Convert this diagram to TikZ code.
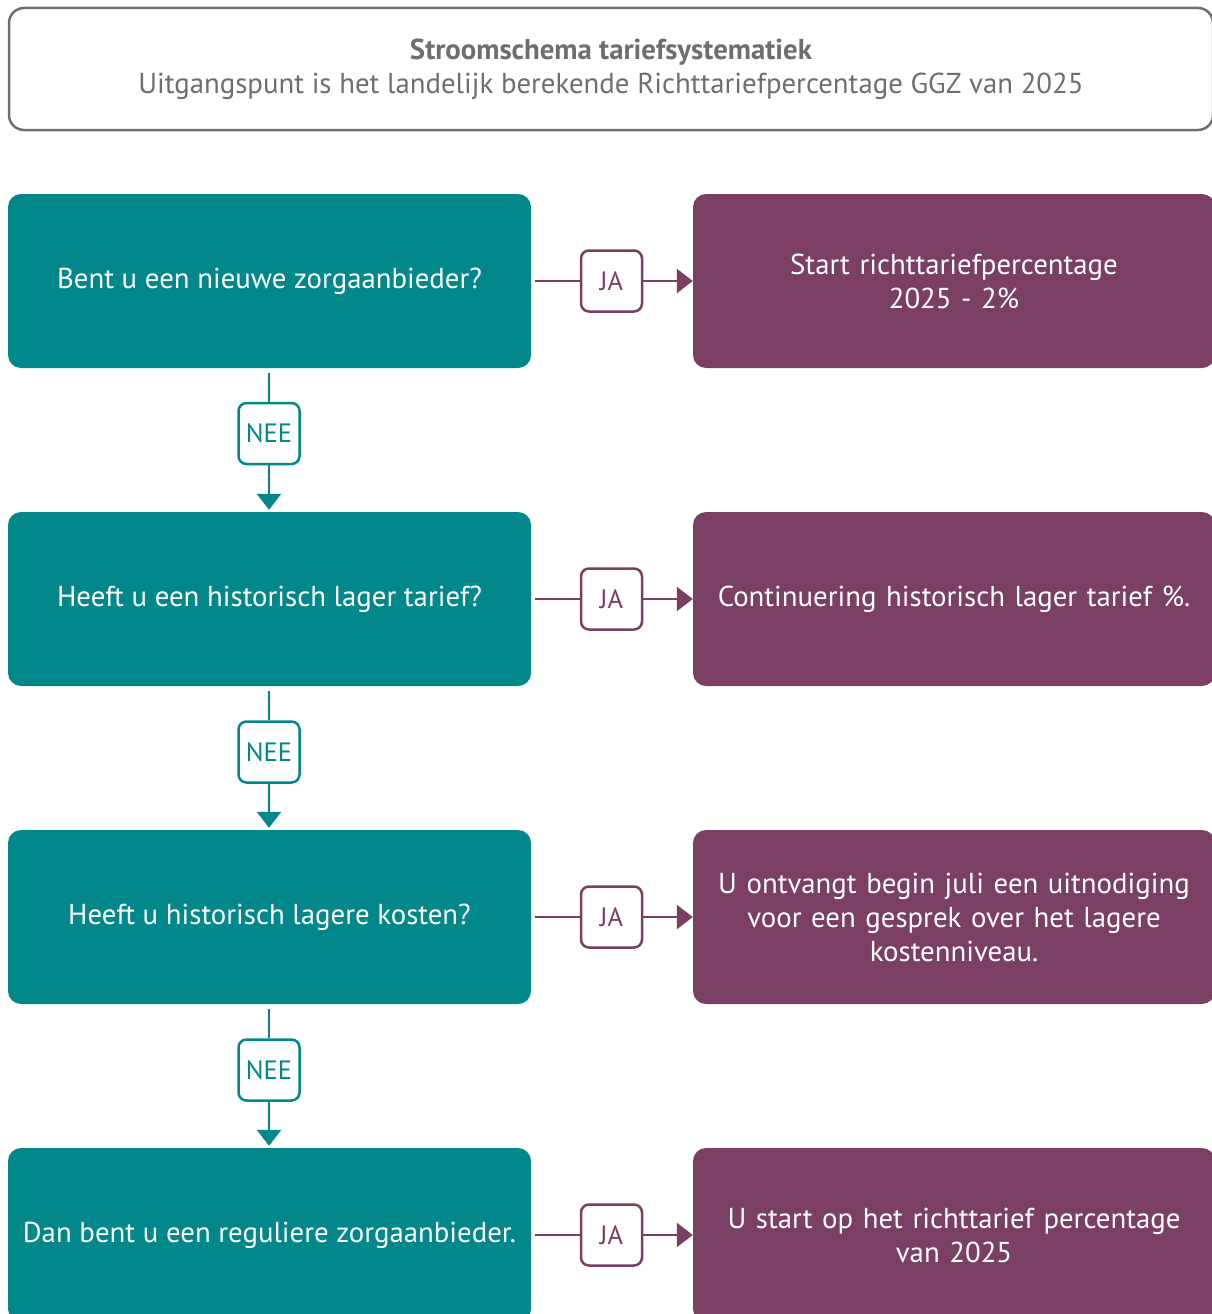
\documentclass[tikz,border=0pt]{standalone}
\usepackage{fontspec}
\setmainfont{PT Sans}
\usetikzlibrary{arrows.meta}
\definecolor{teal0}{HTML}{02888A}
\definecolor{plum0}{HTML}{7A3F62}
\definecolor{gray0}{HTML}{6E6E6E}
\tikzset{
  qbox/.style={fill=teal0, rounded corners=13pt, minimum width=523pt, minimum height=174pt, text=white, font=\fontsize{28.8}{34}\selectfont, align=center, inner sep=0pt},
  abox/.style={fill=plum0, rounded corners=13pt, minimum width=522pt, minimum height=174pt, text=white, font=\fontsize{28.8}{34}\selectfont, align=center, inner sep=0pt, text width=500pt},
  jabox/.style={draw=plum0, line width=2.5pt, rounded corners=8pt, minimum width=61pt, minimum height=61pt, text=plum0, font=\fontsize{26.5}{30}\selectfont, inner sep=0pt},
  neebox/.style={draw=teal0, line width=2.5pt, rounded corners=8pt, minimum width=61pt, minimum height=61pt, text=teal0, font=\fontsize{26.5}{30}\selectfont, inner sep=0pt},
  jaline/.style={draw=plum0, line width=2.5pt},
  neeline/.style={draw=teal0, line width=2.5pt},
  tip/.style={-{Triangle[length=16pt,width=24pt]}},
}
\begin{document}
\begin{tikzpicture}[x=1pt,y=-1pt]
\useasboundingbox (0,0) rectangle (1212,1314);
\clip (0,0) rectangle (1212,1314);
% header
\node[draw=gray0, line width=2.5pt, rounded corners=15pt, minimum width=1204pt, minimum height=122pt, inner sep=0pt, align=center, text=gray0, font=\fontsize{28.8}{34}\selectfont] (head) at (611,69)
  {\textbf{Stroomschema tariefsystematiek}\\Uitgangspunt is het landelijk berekende Richttariefpercentage GGZ van 2025};
% rows
\node[qbox] (q1) at (269.5,281) {Bent u een nieuwe zorgaanbieder?};
\node[qbox] (q2) at (269.5,599) {Heeft u een historisch lager tarief?};
\node[qbox] (q3) at (269.5,917) {Heeft u historisch lagere kosten?};
\node[qbox] (q4) at (269.5,1235) {Dan bent u een reguliere zorgaanbieder.};
\node[abox] (a1) at (954,281) {Start richttariefpercentage\\2025 - 2\%};
\node[abox] (a2) at (954,599) {Continuering historisch lager tarief \%.};
\node[abox] (a3) at (954,917) {U ontvangt begin juli een uitnodiging\\voor een gesprek over het lagere\\kostenniveau.};
\node[abox] (a4) at (954,1235) {U start op het richttarief percentage\\van 2025};
% JA labels
\foreach \i/\y in {1/281,2/599,3/917,4/1235}{
  \node[jabox] (ja\i) at (611.5,\y) {JA};
  \draw[jaline, shorten <=4pt] (q\i.east |- ja\i) -- (ja\i.west);
  \draw[jaline, tip] (ja\i.east) -- (a\i.west |- ja\i);
}
% NEE labels
\foreach \i/\j/\y in {1/2/433.5,2/3/752,3/4/1070}{
  \node[neebox] (nee\i) at (269,\y) {NEE};
  \draw[neeline, shorten <=5pt] (q\i.south -| nee\i) -- (nee\i.north);
  \draw[neeline, tip, shorten >=2pt] (nee\i.south) -- (q\j.north -| nee\i);
}
\end{tikzpicture}
\end{document}
